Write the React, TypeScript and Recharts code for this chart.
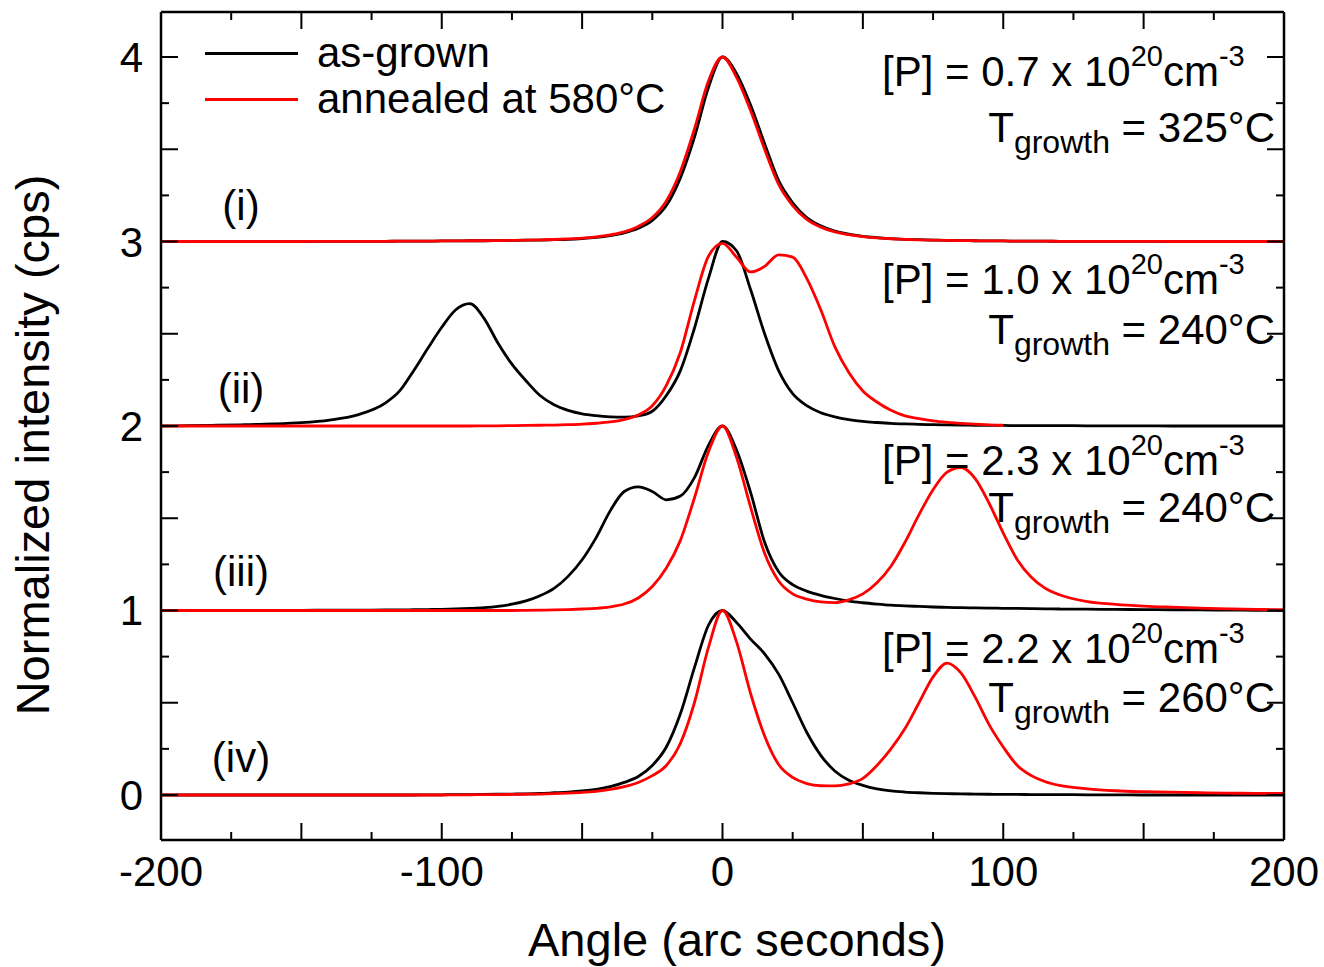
import { LineChart, Line, XAxis, YAxis, Legend } from "recharts";

// angle grid (arc seconds), shared by all curves
const angle = [
  -200, -190, -180, -170, -160, -150, -140, -130,
  -120, -115, -110, -105, -100, -95, -90, -85, -80, -75, -70, -65, -60, -55, -50, -45, -40,
  -35, -30, -25, -20, -15, -10, -5, 0, 5, 10, 15, 20, 25, 30, 35,
  40, 45, 50, 55, 60, 65, 70, 75, 80, 85, 90, 95, 100, 105, 110, 115, 120,
  130, 140, 150, 160, 170, 180, 190, 200,
];

// (i) [P] = 0.7e20, 325°C  (offset 3)
const grownI = [
  3, 3, 3, 3, 3, 3, 3.001, 3.001,
  3.001, 3.002, 3.002, 3.002, 3.003, 3.003, 3.004, 3.004, 3.005, 3.006, 3.007, 3.008, 3.01, 3.012, 3.016, 3.022, 3.032,
  3.047, 3.072, 3.115, 3.195, 3.345, 3.565, 3.835, 4.0, 3.91, 3.74, 3.53, 3.33, 3.21, 3.13, 3.085,
  3.056, 3.04, 3.028, 3.021, 3.016, 3.012, 3.01, 3.008, 3.006, 3.005, 3.004, 3.003, 3.003, 3.002, 3.002, 3.002, 3.001,
  3.001, 3.001, 3.001, 3, 3, 3, 3, 3,
];
const annealedI = [
  3, 3, 3, 3, 3, 3, 3.001, 3.001,
  3.001, 3.002, 3.002, 3.002, 3.003, 3.003, 3.004, 3.004, 3.005, 3.006, 3.007, 3.009, 3.011, 3.014, 3.018, 3.025, 3.036,
  3.052, 3.082, 3.13, 3.22, 3.38, 3.61, 3.87, 4.0, 3.89, 3.71, 3.5, 3.31, 3.195, 3.12, 3.078,
  3.052, 3.037, 3.027, 3.02, 3.015, 3.012, 3.009, 3.007, 3.006, 3.005, 3.004, 3.003, 3.003, 3.002, 3.002, 3.002, 3.001,
  3.001, 3.001, 3.001, 3, 3, 3, 3, 3,
];

// (ii) [P] = 1.0e20, 240°C  (offset 2)
const grownII = [
  2.0, 2.002, 2.004, 2.007, 2.011, 2.018, 2.032, 2.06,
  2.125, 2.19, 2.3, 2.42, 2.535, 2.63, 2.663, 2.585, 2.45, 2.335, 2.245, 2.165, 2.115, 2.085, 2.066, 2.056, 2.05,
  2.048, 2.055, 2.08, 2.165, 2.3, 2.53, 2.8, 3.0, 2.95, 2.74, 2.5, 2.3, 2.175, 2.11, 2.072,
  2.05, 2.035, 2.025, 2.019, 2.014, 2.011, 2.009, 2.007, 2.006, 2.005, 2.004, 2.003, 2.003, 2.002, 2.002, 2.002, 2.002,
  2.001, 2.001, 2.001, 2.0, 2.0, 2.0, 2.0, 2.0,
];
const annealedII = [
  2.0, 2.0, 2.0, 2.0, 2.0, 2.0, 2.0, 2.0,
  2.0, 2.0, 2.0, 2.0, 2.0, 2.0, 2.0, 2.001, 2.001, 2.002, 2.003, 2.004, 2.005, 2.007, 2.01, 2.015, 2.022,
  2.035, 2.06, 2.11, 2.22, 2.4, 2.68, 2.92, 2.99, 2.915, 2.835, 2.865, 2.928, 2.915, 2.8, 2.63,
  2.43, 2.29, 2.19, 2.13, 2.085, 2.055, 2.04, 2.028, 2.02, 2.014, 2.01, 2.006, 2.004, null, null, null, null,
  null, null, null, null, null, null, null, null,
];

// (iii) [P] = 2.3e20, 240°C  (offset 1)
const grownIII = [
  1.0, 1.0, 1.0, 1.001, 1.001, 1.001, 1.002, 1.002,
  1.003, 1.003, 1.004, 1.005, 1.006, 1.008, 1.011, 1.015, 1.022, 1.034, 1.052, 1.08, 1.12, 1.185, 1.275, 1.395, 1.54,
  1.645, 1.67, 1.645, 1.6, 1.62, 1.72, 1.895, 2.0, 1.87, 1.64, 1.37, 1.21, 1.14, 1.105, 1.082,
  1.065, 1.051, 1.042, 1.035, 1.029, 1.025, 1.022, 1.019, 1.017, 1.015, 1.014, 1.013, 1.012, 1.011, 1.01, 1.009, 1.008,
  1.007, 1.006, 1.005, 1.004, 1.003, 1.002, 1.001, 1.0,
];
const annealedIII = [
  1.0, 1.0, 1.0, 1.0, 1.0, 1.0, 1.0, 1.0,
  1.0, 1.0, 1.0, 1.0, 1.0, 1.0, 1.0, 1.0, 1.0, 1.0, 1.001, 1.002, 1.003, 1.005, 1.008, 1.012, 1.02,
  1.035, 1.068, 1.13, 1.23, 1.38, 1.61, 1.86, 2.0, 1.83, 1.56, 1.31, 1.16, 1.09, 1.062, 1.047,
  1.043, 1.058, 1.09, 1.15, 1.24, 1.37, 1.52, 1.655, 1.75, 1.775, 1.715, 1.58, 1.42, 1.275, 1.18, 1.12, 1.085,
  1.048, 1.033, 1.024, 1.018, 1.013, 1.009, 1.006, 1.004,
];

// (iv) [P] = 2.2e20, 260°C  (offset 0)
const grownIV = [
  0, 0, 0, 0, 0, 0, 0, 0,
  0, 0, 0, 0.001, 0.001, 0.002, 0.002, 0.003, 0.004, 0.005, 0.006, 0.008, 0.012, 0.016, 0.022, 0.031, 0.045,
  0.068, 0.1, 0.16, 0.26, 0.44, 0.69, 0.92, 1.0, 0.935, 0.845, 0.765, 0.655, 0.5, 0.34, 0.215,
  0.13, 0.08, 0.052, 0.033, 0.022, 0.016, 0.012, 0.009, 0.007, 0.006, 0.005, 0.004, 0.003, 0.003, 0.002, 0.002, 0.002,
  0.001, 0.001, 0, 0, 0, 0, 0, 0,
];
const annealedIV = [
  0, 0, 0, 0, 0, 0, 0, 0,
  0, 0, 0, 0, 0, 0.001, 0.001, 0.002, 0.002, 0.003, 0.004, 0.005, 0.007, 0.01, 0.014, 0.02, 0.03,
  0.045, 0.068, 0.105, 0.16, 0.28, 0.5, 0.8, 1.0, 0.83, 0.55, 0.32, 0.165, 0.095, 0.062, 0.05,
  0.049, 0.06, 0.09, 0.16, 0.25, 0.36, 0.5, 0.64, 0.715, 0.66, 0.53, 0.38, 0.26, 0.16, 0.105, 0.072, 0.052,
  0.033, 0.023, 0.018, 0.015, 0.012, 0.01, 0.009, 0.008,
];

const xTicks = [-200, -175, -150, -125, -100, -75, -50, -25, 0, 25, 50, 75, 100, 125, 150, 175, 200];
const yTicks = [0, 0.25, 0.5, 0.75, 1, 1.25, 1.5, 1.75, 2, 2.25, 2.5, 2.75, 3, 3.25, 3.5, 3.75, 4];

const legendNames = ["as-grown", "annealed at 580°C"];
const panelNames = ["(i)", "(ii)", "(iii)", "(iv)"];
const concentrations = ["0.7", "1.0", "2.3", "2.2"];
const growthTemps = ["325", "240", "240", "260"];

const FONT = '"Liberation Sans", Arial, Helvetica, sans-serif';
const RED = "#ff0000";
const LW = 2.8;

const rows = angle.map((a, i) => ({
  angle: a,
  g1: grownI[i],
  g2: grownII[i],
  g3: grownIII[i],
  g4: grownIV[i],
  a1: annealedI[i],
  a2: annealedII[i],
  a3: annealedIII[i],
  a4: annealedIV[i],
}));

const axisStroke = { stroke: "#000", strokeWidth: 2.5 };

function BottomTick({ x, y, payload }: any) {
  const v = payload.value;
  return (
    <g>
      <line x1={x} y1={y} x2={x} y2={y - (v % 50 === 0 ? 17 : 8)} stroke="#000" strokeWidth={2} />
      {v % 100 === 0 && (
        <text x={x} y={y + 46} textAnchor="middle" fontSize={42} fontFamily={FONT} fill="#000">
          {String(v)}
        </text>
      )}
    </g>
  );
}

function TopTick({ x, y, payload }: any) {
  const v = payload.value;
  return <line x1={x} y1={y} x2={x} y2={y + (v % 50 === 0 ? 17 : 8)} stroke="#000" strokeWidth={2} />;
}

function LeftTick({ x, y, payload }: any) {
  const v = payload.value;
  return (
    <g>
      <line x1={x} y1={y} x2={x + (v % 0.5 === 0 ? 17 : 8)} y2={y} stroke="#000" strokeWidth={2} />
      {Number.isInteger(v) && (
        <text x={x - 18} y={y + 15} textAnchor="end" fontSize={42} fontFamily={FONT} fill="#000">
          {String(v)}
        </text>
      )}
    </g>
  );
}

function RightTick({ x, y, payload }: any) {
  const v = payload.value;
  return <line x1={x} y1={y} x2={x - (v % 0.5 === 0 ? 17 : 8)} y2={y} stroke="#000" strokeWidth={2} />;
}

function LegendBox({ payload }: any) {
  const items = legendNames
    .map((n) => (payload || []).find((p: any) => p.value === n))
    .filter(Boolean);
  return (
    <div style={{ fontFamily: FONT, fontSize: 42, lineHeight: "46px", color: "#000" }}>
      {items.map((p: any) => (
        <div key={p.value} style={{ display: "flex", alignItems: "center", height: 46, whiteSpace: "nowrap" }}>
          <span style={{ display: "inline-block", width: 93, height: 3, background: p.color, marginRight: 19 }} />
          <span>{p.value}</span>
        </div>
      ))}
    </div>
  );
}

// text blocks drawn over the plot
const pBase = [86, 294, 475, 663];
const tBase = [142, 344, 522, 712];
const nameBase = [220, 403, 586, 772];

function Annotations() {
  return (
    <svg
      width={1324}
      height={967}
      style={{ position: "absolute", left: 0, top: 0, pointerEvents: "none" }}
      fontFamily={FONT}
      fill="#000"
    >
      <text x={36} y={445} fontSize={47} textAnchor="middle" transform="rotate(-90 36 445)" dy={13}>
        Normalized intensity (cps)
      </text>
      <text x={737} y={956} fontSize={47} textAnchor="middle">
        Angle (arc seconds)
      </text>
      {panelNames.map((n, i) => (
        <text key={n} x={241} y={nameBase[i]} fontSize={42} textAnchor="middle">
          {n}
        </text>
      ))}
      {concentrations.map((c, i) => (
        <g key={i}>
          <text x={882} y={pBase[i]} fontSize={42}>
            <tspan>{`[P] = ${c} x 10`}</tspan>
            <tspan fontSize={29} dy={-20}>20</tspan>
            <tspan dy={20}>cm</tspan>
            <tspan fontSize={29} dy={-20}>-3</tspan>
          </text>
          <text x={1275} y={tBase[i]} fontSize={42} textAnchor="end">
            <tspan>T</tspan>
            <tspan fontSize={32} dy={11}>growth</tspan>
            <tspan dy={-11}>{` = ${growthTemps[i]}°C`}</tspan>
          </text>
        </g>
      ))}
    </svg>
  );
}

export default function App() {
  return (
    <div style={{ position: "absolute", left: 0, top: 0, width: 1324, height: 967, background: "#fff" }}>
      <LineChart
        width={1324}
        height={967}
        data={rows}
        margin={{ top: 11, right: 39, bottom: 67, left: 101 }}
      >
        <XAxis
          dataKey="angle"
          type="number"
          domain={[-200, 200]}
          ticks={xTicks}
          interval={0}
          allowDataOverflow
          height={60}
          tickSize={0}
          tickMargin={0}
          tickLine={false}
          tick={<BottomTick />}
          axisLine={axisStroke}
        />
        <XAxis
          xAxisId="top"
          orientation="top"
          dataKey="angle"
          type="number"
          domain={[-200, 200]}
          ticks={xTicks}
          interval={0}
          allowDataOverflow
          height={1}
          tickSize={0}
          tickMargin={0}
          tickLine={false}
          tick={<TopTick />}
          axisLine={axisStroke}
        />
        <YAxis
          type="number"
          domain={[-0.244, 4.244]}
          ticks={yTicks}
          interval={0}
          allowDataOverflow
          width={60}
          tickSize={0}
          tickMargin={0}
          tickLine={false}
          tick={<LeftTick />}
          axisLine={axisStroke}
        />
        <YAxis
          yAxisId="right"
          orientation="right"
          type="number"
          domain={[-0.244, 4.244]}
          ticks={yTicks}
          interval={0}
          allowDataOverflow
          width={1}
          tickSize={0}
          tickMargin={0}
          tickLine={false}
          tick={<RightTick />}
          axisLine={axisStroke}
        />
        <Legend
          layout="vertical"
          align="center"
          verticalAlign="middle"
          content={<LegendBox />}
          wrapperStyle={{ left: 205, top: 30, width: 500 }}
        />
        <Line dataKey="g1" name="as-grown" stroke="#000" strokeWidth={LW} dot={false} type="monotone" isAnimationActive={false} />
        <Line dataKey="g2" stroke="#000" strokeWidth={LW} dot={false} type="monotone" legendType="none" isAnimationActive={false} />
        <Line dataKey="g3" stroke="#000" strokeWidth={LW} dot={false} type="monotone" legendType="none" isAnimationActive={false} />
        <Line dataKey="g4" stroke="#000" strokeWidth={LW} dot={false} type="monotone" legendType="none" isAnimationActive={false} />
        <Line dataKey="a1" name="annealed at 580°C" stroke={RED} strokeWidth={LW} dot={false} type="monotone" isAnimationActive={false} />
        <Line dataKey="a2" stroke={RED} strokeWidth={LW} dot={false} type="monotone" legendType="none" isAnimationActive={false} />
        <Line dataKey="a3" stroke={RED} strokeWidth={LW} dot={false} type="monotone" legendType="none" isAnimationActive={false} />
        <Line dataKey="a4" stroke={RED} strokeWidth={LW} dot={false} type="monotone" legendType="none" isAnimationActive={false} />
      </LineChart>
      <Annotations />
    </div>
  );
}
